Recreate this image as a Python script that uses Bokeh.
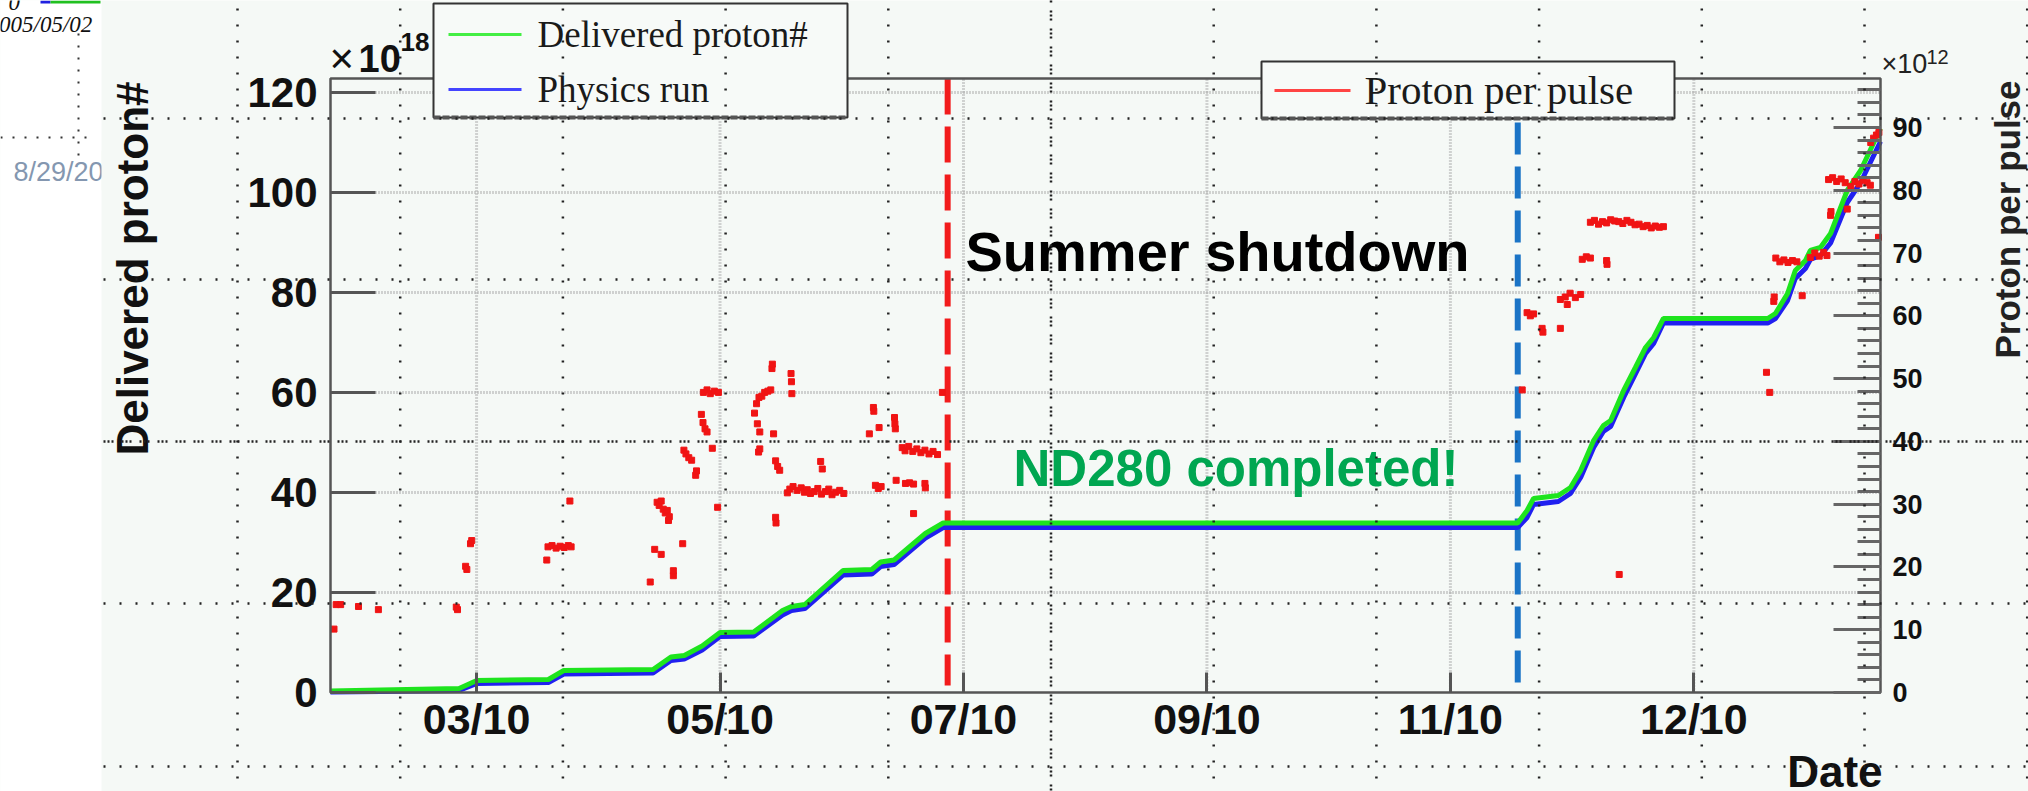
import numpy as np
import pandas as pd
from bokeh.plotting import figure
from bokeh.models import Range1d, LinearAxis, DatetimeAxis, FixedTicker, DatetimeTickFormatter
from bokeh.core.properties import value
from bokeh.embed import file_html
from bokeh.resources import INLINE

# ---------------- data ----------------
EPOCH = "2010-01-29"   # day 0 of all day arrays

DELIV_DAY = [0, 12.4, 31.7, 36.05, 53.7, 57.5, 79.5, 83.9, 87.2, 91.6,
             96.0, 104.3, 111.4, 113.6, 116.9, 126.3, 133.4, 135.6, 138.9, 146.6,
             151.0, 292.6, 294.9, 296.5, 302.6, 305.6, 308.1, 311.3, 313.7, 315.5,
             318.7, 321.6, 324.1, 326.1, 328.5, 354.2, 356.1, 359.1, 361.0, 363.5,
             364.7, 367.2, 369.7, 373.8, 377.1, 382.0]
DELIV_VAL = [0.3, 0.5, 0.8, 2.4, 2.6, 4.4, 4.6, 7.1, 7.4, 9.3,
             12.0, 12.1, 16.4, 17.2, 17.6, 24.4, 24.6, 26.1, 26.5, 31.8,
             33.9, 33.9, 36.4, 38.8, 39.4, 41.0, 44.4, 50.4, 53.4, 54.4,
             60.4, 65.0, 69.0, 71.0, 74.8, 74.8, 75.8, 79.8, 84.4, 86.4,
             88.4, 89.0, 91.8, 100.4, 104.4, 112.8]

PHYS_DAY = list(DELIV_DAY)
PHYS_VAL = [0.1, 0.2, 0.4, 1.8, 2.0, 3.7, 3.9, 6.4, 6.7, 8.5,
            11.2, 11.3, 15.5, 16.4, 16.8, 23.5, 23.7, 25.2, 25.6, 30.9,
            33.0, 33.0, 35.0, 37.6, 38.2, 39.8, 43.0, 49.0, 52.2, 53.2,
            59.0, 63.7, 67.8, 69.8, 73.9, 73.9, 74.8, 78.4, 82.8, 84.8,
            86.6, 87.4, 89.9, 98.0, 102.0, 110.2]

RUN1_PPP = [(0.86, 10.1), (1.4, 14.0), (2.5, 14.0), (6.9, 13.7), (11.8, 13.2),
            (31.0, 13.6), (31.3, 13.2), (33.3, 20.1), (33.6, 19.6), (34.5, 23.7), (34.8, 24.2),
            (53.3, 21.1), (53.6, 23.2), (54.6, 23.4), (55.6, 23.0), (56.6, 23.3), (57.6, 23.1),
            (58.6, 23.4), (59.3, 23.2), (59.0, 30.5),
            (78.8, 17.6), (79.9, 22.8), (81.5, 22.0), (84.5, 18.6), (84.5, 19.4), (86.8, 23.7),
            (80.5, 30.3), (81.0, 29.8), (81.5, 30.5), (82.0, 29.2), (82.5, 28.6), (83.0, 29.0),
            (83.5, 28.0), (83.3, 27.4),
            (87.1, 38.6), (87.6, 38.0), (88.3, 37.4), (89.0, 37.0), (90.0, 34.6), (90.2, 35.3),
            (91.4, 44.3), (91.8, 43.0), (92.3, 42.0), (92.8, 41.5),
            (91.9, 47.8), (92.8, 48.2), (93.6, 47.6), (94.6, 48.0), (95.6, 47.8),
            (94.1, 38.9), (95.4, 29.5),
            (104.5, 44.5), (105.0, 46.0), (105.6, 47.0), (106.3, 47.2), (107.0, 47.8),
            (107.8, 48.0), (108.5, 48.2), (105.2, 42.8), (105.8, 41.5),
            (108.8, 51.6), (108.9, 52.3), (113.5, 50.8), (113.6, 49.5), (113.7, 47.6),
            (105.5, 38.3), (105.8, 38.8), (109.2, 41.2), (109.7, 36.9), (110.2, 36.0),
            (110.7, 35.4), (109.7, 27.9), (109.8, 27.0),
            (112.6, 31.8), (113.2, 32.4), (114.0, 32.8), (115.0, 32.2), (116.0, 32.6),
            (116.8, 31.9), (117.5, 32.3), (118.3, 31.7), (119.2, 32.0), (120.1, 32.5),
            (121.0, 31.6), (122.0, 32.0), (122.8, 32.4), (123.6, 31.5), (124.5, 31.9),
            (125.5, 32.2), (126.5, 31.7), (120.8, 36.8), (121.2, 35.6),
            (133.8, 45.4), (133.9, 44.8), (132.8, 41.2), (135.2, 42.2), (139.0, 43.8),
            (139.1, 42.8), (139.2, 42.0),
            (140.9, 39.0), (141.6, 38.5), (142.5, 39.2), (143.5, 38.4), (144.5, 38.8),
            (145.5, 38.2), (146.5, 38.6), (147.5, 38.0), (148.5, 38.4), (149.6, 37.9),
            (134.3, 33.0), (135.0, 32.5), (135.7, 32.8), (139.4, 33.8), (141.7, 33.3),
            (142.7, 33.4), (143.7, 33.2), (146.5, 33.3), (146.6, 32.6), (143.7, 28.5),
            (150.8, 47.8)]

RUN2_PPP = [(293.7, 48.2), (294.9, 60.5), (295.7, 60.0), (296.5, 60.3), (298.6, 58.0),
            (298.8, 57.4), (303.1, 58.0),
            (303.1, 62.6), (304.3, 63.0), (305.5, 63.6), (306.8, 62.9), (308.1, 63.4), (304.8, 61.8),
            (308.5, 69.0), (309.5, 69.4), (310.5, 69.2), (314.5, 68.8), (314.6, 68.2),
            (310.5, 74.9), (311.5, 75.2), (312.5, 74.6), (313.5, 75.0), (314.5, 74.8),
            (315.5, 75.3), (316.5, 75.1), (317.5, 75.0), (318.5, 74.7), (319.5, 75.2),
            (320.5, 74.9), (321.5, 74.5), (322.5, 74.6), (323.5, 74.2), (324.5, 74.4),
            (325.5, 74.0), (326.5, 74.3), (327.5, 74.1), (328.5, 74.2),
            (317.6, 18.8),
            (353.9, 51.0), (354.7, 47.8), (355.7, 62.3), (355.8, 63.0),
            (356.2, 69.2), (357.2, 68.6), (358.2, 68.9), (359.2, 68.5), (360.3, 68.8),
            (361.4, 68.6), (362.7, 63.2),
            (364.7, 69.3), (365.8, 70.0), (366.9, 69.5), (368.0, 70.1), (368.8, 69.6),
            (369.7, 76.0), (369.8, 76.6),
            (369.2, 81.7), (370.2, 82.0), (371.2, 81.4), (372.3, 81.8), (373.3, 81.2), (373.8, 77.0),
            (374.7, 80.6), (375.7, 81.4), (376.7, 81.0), (377.7, 81.6), (378.7, 81.2), (379.5, 80.8),
            (379.6, 87.6), (380.3, 88.3), (381.0, 88.8), (381.6, 89.2), (381.5, 72.5)]

PPP_DAY = [d for d, v in RUN1_PPP + RUN2_PPP]
PPP_VAL = [v for d, v in RUN1_PPP + RUN2_PPP]

SHUTDOWN_DAY = 152.1
RUN2_DAY = 292.6

X_TICKS = ["2010-03-06", "2010-05-05", "2010-07-04", "2010-09-02", "2010-11-01", "2010-12-31"]
Y_LEFT_TICKS = [0, 20, 40, 60, 80, 100, 120]
Y_RIGHT_TICKS = [0, 10, 20, 30, 40, 50, 60, 70, 80, 90]
Y_RIGHT_MINOR = list(range(0, 98, 2))
X_START, X_END = "2010-01-29", "2011-02-15"
Y_LEFT_MAX, Y_RIGHT_MAX = 122.8, 97.8

# ---------------- layout (canvas pixels) ----------------
W, H = 2028, 791
FL, FR, FT, FB = 330, 1880, 78, 692
BG = "#f5f9f6"

DAY_MS = 86400000.0
def ms(ts):
    return pd.Timestamp(ts).value / 1e6
def day_ms(days):
    return ms(EPOCH) + np.asarray(days, float) * DAY_MS

xs0, xs1 = ms(X_START), ms(X_END)
mpp = (xs1 - xs0) / (FR - FL)
x_range = Range1d(xs0 - FL * mpp, xs1 + (W - FR) * mpp)
upp = Y_LEFT_MAX / (FB - FT)
y_range = Range1d(-(H - FB) * upp, Y_LEFT_MAX + FT * upp)
rpp = Y_RIGHT_MAX / (FB - FT)
right_range = Range1d(-(H - FB) * rpp, Y_RIGHT_MAX + FT * rpp)

def px(cx):
    return x_range.start + cx * mpp
def py(cy):
    return y_range.end - cy * upp

p = figure(width=W, height=H, x_range=x_range, y_range=y_range,
           x_axis_type=None, y_axis_type=None, output_backend="svg",
           toolbar_location=None, min_border=0,
           background_fill_color=BG, border_fill_color=BG, outline_line_color=None)
p.extra_y_ranges = {"right": right_range}

def txt(cx, cy, s, size, color="#111111", style="normal", font="Liberation Sans",
        align="left", baseline="middle", angle=0.0):
    p.text(x=[px(cx)], y=[py(cy)], text=[s], text_font=value(font),
           text_font_size=value(f"{size}px"), text_font_style=style,
           text_color=color, text_align=align, text_baseline=baseline, angle=angle)

# ---- left white strip (other slide) ----
p.quad(left=[px(-10)], right=[px(101)], bottom=[py(800)], top=[py(-10)],
       fill_color="white", line_color=None)
p.segment(x0=[px(78)], y0=[py(33)], x1=[px(78)], y1=[py(158)],
          line_color="#333333", line_width=2, line_dash="2 10")
p.segment(x0=[px(0)], y0=[py(137)], x1=[px(92)], y1=[py(137)],
          line_color="#333333", line_width=2, line_dash="2 10")
p.quad(left=[px(40)], right=[px(50)], bottom=[py(3)], top=[py(0)], fill_color="#2020e0", line_color=None)
p.quad(left=[px(50)], right=[px(100)], bottom=[py(3)], top=[py(0)], fill_color="#20c020", line_color=None)
txt(8, 2, "0", 23, color="#111111", style="italic", font="Liberation Serif")
txt(-13, 24, "2005/05/02", 23, color="#111111", style="italic", font="Liberation Serif")
txt(13, 171, "8/29/2011", 27, color="#8497b0")
p.quad(left=[px(101)], right=[px(130)], bottom=[py(190)], top=[py(150)],
       fill_color=BG, line_color=None)

# ---- ROOT grid (gray dotted) ----
gy = [v for v in Y_LEFT_TICKS if v > 0]
p.segment(x0=[xs0] * len(gy), y0=gy, x1=[xs1] * len(gy), y1=gy,
          line_color="#aaaaaa", line_width=3, line_dash="1 2")
gx = [ms(t) for t in X_TICKS]
p.segment(x0=gx, y0=[0] * len(gx), x1=gx, y1=[Y_LEFT_MAX] * len(gx),
          line_color="#aaaaaa", line_width=3, line_dash="1 2")

# ---- run boundaries ----
p.line(x=day_ms([SHUTDOWN_DAY, SHUTDOWN_DAY]), y=[Y_LEFT_MAX, 1.4],
       line_color="#f21c1c", line_width=6, line_dash="36 12")
p.line(x=day_ms([RUN2_DAY, RUN2_DAY]), y=[Y_LEFT_MAX, 1.4],
       line_color="#1b74c6", line_width=6, line_dash="32 12")

# ---- data ----
p.line(x=day_ms(PHYS_DAY), y=PHYS_VAL, line_color="#2020f0", line_width=5)
p.line(x=day_ms(DELIV_DAY), y=DELIV_VAL, line_color="#1ee41e", line_width=5)
p.scatter(x=day_ms(PPP_DAY), y=PPP_VAL, y_range_name="right", marker="square",
          size=6, fill_color="#f01414", line_color="#f01414")

# ---- frame ----
p.quad(left=[xs0], right=[xs1], bottom=[0], top=[Y_LEFT_MAX],
       fill_color=None, line_color="#555555", line_width=2.5)

# ---- legends ----
LEG_FILL = "#f7faf8"
p.quad(left=[px(433)], right=[px(847)], bottom=[py(117)], top=[py(3)],
       fill_color=LEG_FILL, line_color="#333333", line_width=2)
p.segment(x0=[px(433)], y0=[py(117)], x1=[px(847)], y1=[py(117)],
          line_color="#555555", line_width=4, line_dash="7 2")
p.segment(x0=[px(448)], y0=[py(34)], x1=[px(521)], y1=[py(34)], line_color="#44ee44", line_width=3)
p.segment(x0=[px(448)], y0=[py(89)], x1=[px(521)], y1=[py(89)], line_color="#4444ff", line_width=3)
txt(537, 34, "Delivered proton#", 37, color="#1a1a1a", font="Liberation Serif")
txt(537, 89, "Physics run", 37, color="#1a1a1a", font="Liberation Serif")

p.quad(left=[px(1261)], right=[px(1674)], bottom=[py(118)], top=[py(61)],
       fill_color=LEG_FILL, line_color="#333333", line_width=2)
p.segment(x0=[px(1261)], y0=[py(118)], x1=[px(1674)], y1=[py(118)],
          line_color="#555555", line_width=4, line_dash="7 2")
p.segment(x0=[px(1274)], y0=[py(90)], x1=[px(1350)], y1=[py(90)], line_color="#ff4444", line_width=3)
txt(1364, 89, "Proton per pulse", 41, color="#1a1a1a", font="Liberation Serif")

# ---- annotations ----
txt(965, 251, "Summer shutdown", 56, color="#000000", style="bold")
txt(1013, 468, "ND280 completed!", 51, color="#00a651", style="bold")
txt(329, 58, "\u00d7", 42, color="#111111")
txt(358, 58, "10", 38, color="#111111", style="bold")
txt(400, 41, "18", 26, color="#111111", style="bold")
txt(1881, 63, "\u00d710", 27, color="#222222")
txt(1926, 56, "12", 20, color="#222222")
txt(132, 268, "Delivered proton#", 44, color="#111111", style="bold",
    align="center", angle=np.pi / 2)
txt(2007, 219, "Proton per pulse", 35, color="#222222", style="bold",
    align="center", angle=np.pi / 2)
txt(1882, 771, "Date", 44, color="#111111", style="bold", align="right")

# ---- axes ----
fmt = "%m/%y"
xaxis = DatetimeAxis(fixed_location=0,
                     ticker=FixedTicker(ticks=[ms(t) for t in X_TICKS], minor_ticks=[]),
                     formatter=DatetimeTickFormatter(microseconds=fmt, milliseconds=fmt, seconds=fmt,
                                                     minsec=fmt, minutes=fmt, hourmin=fmt, hours=fmt,
                                                     days=fmt, months=fmt, years=fmt),
                     axis_line_color=None, major_tick_in=20, major_tick_out=0,
                     minor_tick_in=0, minor_tick_out=0,
                     major_tick_line_color="#555555", major_tick_line_width=3,
                     major_label_standoff=2, major_label_text_font="Liberation Sans",
                     major_label_text_font_style="bold", major_label_text_font_size="43px",
                     major_label_text_color="#111111")
p.add_layout(xaxis, "below")

laxis = LinearAxis(fixed_location=xs0,
                   ticker=FixedTicker(ticks=Y_LEFT_TICKS, minor_ticks=[]),
                   axis_line_color=None, major_tick_in=45, major_tick_out=0,
                   minor_tick_in=0, minor_tick_out=0,
                   major_tick_line_color="#555555", major_tick_line_width=3,
                   major_label_standoff=13, major_label_text_font="Liberation Sans",
                   major_label_text_font_style="bold", major_label_text_font_size="42px",
                   major_label_text_color="#111111")
p.add_layout(laxis, "left")

raxis = LinearAxis(y_range_name="right", fixed_location=xs1,
                   ticker=FixedTicker(ticks=Y_RIGHT_TICKS, minor_ticks=Y_RIGHT_MINOR),
                   axis_line_color=None, major_tick_in=47, major_tick_out=0,
                   minor_tick_in=23, minor_tick_out=0,
                   major_tick_line_color="#666666", major_tick_line_width=3,
                   minor_tick_line_color="#666666", minor_tick_line_width=3,
                   major_label_standoff=12, major_label_text_font="Liberation Sans",
                   major_label_text_font_style="bold", major_label_text_font_size="27px",
                   major_label_text_color="#111111")
p.add_layout(raxis, "right")

# ---- slide guide grid (black dots over everything) ----
VX = [237 + 162.7 * k for k in range(12)]
HY = [118, 279, 441, 603, 766]
reg_vx = [x for i, x in enumerate(VX) if i != 5]
p.segment(x0=[px(x) for x in reg_vx], y0=[py(-8)] * len(reg_vx),
          x1=[px(x) for x in reg_vx], y1=[py(800)] * len(reg_vx),
          line_color="#222222", line_width=2.5, line_dash="2 14", level="overlay")
p.segment(x0=[px(VX[5])], y0=[py(-8)], x1=[px(VX[5])], y1=[py(800)],
          line_color="#222222", line_width=2.5, line_dash="2 2 2 2 2 8", level="overlay")
reg_hy = [y for y in HY if y != 441]
p.segment(x0=[px(103)] * len(reg_hy), y0=[py(y) for y in reg_hy],
          x1=[px(2040)] * len(reg_hy), y1=[py(y) for y in reg_hy],
          line_color="#222222", line_width=2.5, line_dash="2 14", level="overlay")
p.segment(x0=[px(103)], y0=[py(441)], x1=[px(2040)], y1=[py(441)],
          line_color="#222222", line_width=2.5, line_dash="2 2 2 2 2 8", level="overlay")

open("out.html", "w").write(file_html(p, INLINE))
